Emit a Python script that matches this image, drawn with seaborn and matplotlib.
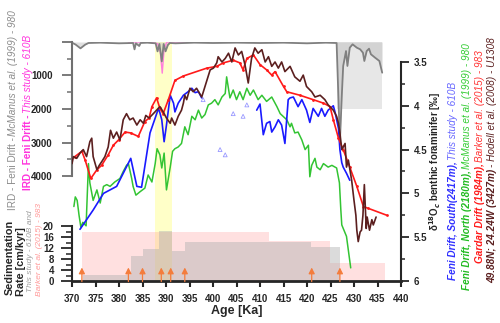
import numpy as np
import matplotlib
matplotlib.use("Agg")
import matplotlib.pyplot as plt
import seaborn as sns

# ---- data ----
# benthic d18O (permil)
brown_age = [370.0, 370.3, 371.0, 371.7, 372.4, 373.1, 373.8, 374.2, 374.5, 375.3,
             375.8, 376.3, 377.0, 377.7, 378.2, 378.8, 379.5, 380.2, 380.9, 381.6,
             382.3, 383.0, 383.8, 384.5, 385.2, 385.7, 386.4, 387.3, 388.0, 388.7,
             389.4, 390.1, 390.9, 391.2, 391.9, 392.6, 393.3, 393.7, 394.0, 394.4,
             395.1, 395.8, 396.5, 397.6, 398.7, 399.4, 400.1, 400.8, 401.1, 401.9,
             402.6, 403.3, 404.0, 404.7, 405.4, 406.1, 406.8, 407.5, 408.2, 408.9,
             409.6, 410.4, 411.1, 411.8, 412.5, 413.2, 413.9, 414.6, 415.3, 416.4,
             417.4, 418.5, 419.2, 419.9, 421.0, 421.7, 422.8, 423.8, 424.5, 425.6,
             426.3, 426.7, 427.0, 427.4, 428.1, 428.4, 428.8, 429.5, 430.0, 430.4,
             430.6, 430.9, 431.3, 431.6, 431.9, 432.2, 432.6, 432.8, 433.3, 433.8,
             434.1, 434.7]
brown_d18 = [4.66, 4.58, 4.60, 4.54, 4.50, 4.58, 4.41, 4.37, 4.58, 4.73,
             4.68, 4.64, 4.58, 4.47, 4.28, 4.37, 4.30, 4.39, 4.16, 4.09,
             4.16, 4.14, 4.22, 4.16, 4.20, 4.11, 4.14, 4.09, 4.05, 4.01,
             4.07, 4.14, 4.20, 4.14, 4.22, 4.12, 4.05, 3.97, 3.88, 3.93,
             3.80, 3.84, 3.80, 3.90, 3.71, 3.59, 3.57, 3.51, 3.44, 3.50,
             3.46, 3.40, 3.50, 3.34, 3.42, 3.38, 3.53, 3.74, 3.46, 3.34,
             3.40, 3.36, 3.50, 3.44, 3.55, 3.50, 3.57, 3.50, 3.61, 3.55,
             3.67, 3.72, 3.65, 3.78, 3.84, 3.90, 3.88, 3.93, 3.99, 4.05,
             4.12, 4.20, 4.31, 4.50, 4.43, 4.70, 4.62, 4.85, 5.08, 5.25,
             5.42, 5.55, 5.44, 5.42, 5.25, 4.90, 5.40, 5.27, 5.42, 5.30,
             5.36, 5.27]

green_age = [370.4, 370.7, 371.1, 371.5, 371.9, 372.3, 373.0, 373.5, 373.8, 374.5,
             375.3, 376.0, 376.7, 377.4, 378.1, 379.1, 380.2, 380.9, 381.6, 382.0,
             382.7, 383.0, 383.6, 384.5, 385.5, 386.2, 387.0, 387.7, 388.1, 388.7,
             389.1, 389.6, 390.1, 390.9, 391.4, 391.9, 392.6, 393.3, 394.0, 394.7,
             395.5, 396.2, 396.9, 397.6, 398.3, 399.0, 399.7, 400.4, 401.1, 401.9,
             402.6, 402.9, 403.6, 404.3, 405.0, 405.7, 406.4, 407.2, 407.9, 408.6,
             409.6, 410.4, 411.4, 412.5, 413.6, 414.3, 415.7, 416.4, 416.7, 417.4,
             418.1, 418.9, 419.6, 420.3, 420.6, 421.0, 421.7, 422.1, 422.8, 423.5,
             424.5, 425.3, 426.3, 426.9, 427.2, 427.4, 428.4, 429.3]
green_d18 = [5.15, 5.04, 5.08, 5.25, 5.39, 5.33, 5.37, 4.66, 4.88, 5.08,
             4.96, 5.11, 4.92, 4.90, 4.92, 4.87, 4.83, 4.75, 4.68, 4.66,
             4.83, 4.92, 5.02, 4.98, 4.94, 4.79, 4.87, 4.66, 4.49, 4.56,
             4.71, 4.54, 4.96, 4.70, 4.52, 4.49, 4.47, 4.43, 4.24, 4.33,
             4.12, 4.16, 4.05, 4.14, 4.10, 3.99, 3.97, 3.93, 3.99, 3.90,
             3.86, 3.67, 3.91, 3.82, 3.93, 3.84, 3.93, 3.80, 3.88, 3.82,
             3.93, 3.88, 3.95, 3.90, 4.01, 4.09, 4.16, 4.24, 4.20, 4.31,
             4.30, 4.39, 4.50, 4.45, 4.81, 4.68, 4.60, 4.70, 4.73, 4.66,
             4.70, 4.68, 4.71, 4.88, 5.19, 5.36, 5.49, 5.85]

red_age = [370.6, 372.1, 372.8, 374.0, 375.3, 376.3, 377.7, 378.8, 379.9, 381.3,
           382.5, 384.1, 385.5, 386.4, 387.0, 388.0, 388.7, 389.4, 390.5, 391.9,
           393.7, 398.7, 400.8, 402.2, 404.3, 405.7, 406.4, 407.2, 408.6, 410.0,
           411.4, 412.5, 413.2, 415.0, 415.7, 418.5, 421.3, 423.5, 424.9, 425.6,
           426.7, 427.7, 429.1, 430.6, 432.0, 433.0, 437.0]
red_d18 = [4.58, 4.52, 4.62, 4.83, 4.73, 4.68, 4.56, 4.45, 4.39, 4.30,
           4.31, 4.35, 4.18, 4.14, 4.01, 3.91, 4.03, 4.09, 3.93, 3.71,
           3.66, 3.57, 3.55, 3.51, 3.48, 3.51, 3.59, 3.46, 3.42, 3.53,
           3.59, 3.65, 3.61, 3.78, 3.84, 3.88, 3.93, 3.97, 4.01, 4.16,
           4.37, 4.50, 4.70, 4.92, 5.15, 5.17, 5.25]

blue_age_a = [371.7, 373.1, 374.5, 376.7, 379.5, 382.5, 383.8, 384.8, 386.6, 387.7,
              388.4, 388.7, 389.1, 389.6, 390.1, 390.9, 391.6, 391.9, 392.6, 393.7,
              394.7, 395.5, 396.2, 396.9, 397.6]
blue_d18_a = [5.41, 5.30, 5.19, 5.00, 4.92, 4.60, 4.92, 4.93, 4.31, 4.14,
              4.03, 4.08, 4.16, 4.41, 4.22, 3.88, 3.97, 4.07, 3.97, 3.88,
              3.84, 3.80, 3.85, 3.84, 3.91]
blue_age_b = [409.3, 410.0, 410.7, 411.4, 412.1, 412.5, 413.2, 413.9, 414.6, 415.3,
              416.0, 416.4, 417.1, 418.1, 418.9, 419.9, 420.6, 421.3, 422.4, 423.1,
              423.8, 424.5, 425.6, 426.0, 426.7, 427.0, 427.4, 427.7, 428.4, 429.1]
blue_d18_b = [4.05, 3.98, 4.33, 4.20, 4.18, 4.30, 4.24, 4.16, 4.22, 4.43,
              3.93, 3.91, 3.90, 4.01, 3.93, 4.05, 4.19, 4.03, 4.12, 4.03,
              4.12, 4.05, 4.00, 4.08, 4.26, 4.50, 4.65, 4.70, 4.77, 4.85]
tri_age = [397.9, 401.5, 402.6, 404.3, 406.4, 407.2]
tri_d18 = [3.93, 4.50, 4.56, 4.09, 4.12, 3.99]

# IRD counts
ird980_age = [370.0, 370.8, 371.8, 372.8, 373.5, 376.0, 380.0, 383.0, 383.3, 383.6,
              384.3, 384.6, 386.0, 387.8, 388.2, 388.6, 389.1, 389.5, 389.9, 390.4,
              390.8, 392.0, 396.0, 400.0, 405.0, 410.0, 415.0, 420.0, 424.0, 426.3,
              427.0, 427.4, 427.7, 428.3, 428.6, 429.1, 429.7, 430.6, 431.3, 431.9,
              432.2, 432.7, 433.2, 433.6, 434.5, 435.4, 436.0]
ird980_val = [20, 80, 190, 80, 30, 20, 40, 30, 220, 40,
              120, 30, 20, 40, 280, 60, 580, 60, 280, 90,
              30, 40, 20, 30, 20, 30, 20, 40, 20, 30,
              3000, 1610, 716, 270, 716, 170, 70, 170, 218, 320,
              567, 270, 200, 367, 470, 567, 916]
ird610_age = [382.0, 386.0, 388.2, 388.8, 389.2, 389.6, 390.2, 395.0]
ird610_val = [0, 0, 50, 300, 930, 200, 0, 0]
ird_box_age = [426.3, 436.0]
ird_box_depth = 2000

# sedimentation rate (step bars, edges + values)
sed983_edges = [372.1, 412.0, 424.8, 436.6]
sed983_rate = [17.8, 14.5, 6.6]
sed610_edges = [372.4, 382.5, 385.0, 388.5, 391.2, 394.0, 420.8, 427.0]
sed610_rate = [2.2, 9.0, 11.6, 18.3, 10.8, 14.2, 12.4]
tiepoint_age = [372.1, 382.0, 385.0, 389.0, 391.0, 394.0, 421.0, 427.0]
yellow_band = (387.7, 391.2)

# ---- figure ----
sns.set_style("ticks")
plt.rcParams["font.family"] = ["Liberation Sans", "DejaVu Sans"]
plt.rcParams["font.weight"] = "bold"
plt.rcParams["axes.linewidth"] = 1.5

fig = plt.figure(figsize=(5.0, 3.23), dpi=100)
rect = [0.144, 0.130, 0.658, 0.740]
ax = fig.add_axes(rect)
ax_ird = fig.add_axes(rect, sharex=ax)
ax_d = fig.add_axes(rect, sharex=ax)
for a in (ax_ird, ax_d):
    a.patch.set_visible(False)
    a.xaxis.set_visible(False)

# sedimentation rate + age axis
ax.axvspan(*yellow_band, color="#ffffc8", lw=0, zorder=0)
ax.fill_between(sed983_edges, sed983_rate + sed983_rate[-1:], step="post",
                color="#ff9999", alpha=0.3, lw=0)
ax.fill_between(sed610_edges, sed610_rate + sed610_rate[-1:], step="post",
                color="#b0b0b0", alpha=0.45, lw=0)
for a in tiepoint_age:
    ax.annotate("", xy=(a, 4.9), xytext=(a, -0.2),
                arrowprops=dict(arrowstyle="-|>,head_width=0.18,head_length=0.35",
                                color="#f47c3c", lw=0.9, shrinkA=0, shrinkB=0))
ax.set_xlim(370, 440)
ax.set_ylim(0, 87)
ax.set_xticks(np.arange(370, 441, 5))
ax.set_yticks([0, 4, 8, 12, 16, 20])
ax.set_yticks(np.arange(0, 21, 2), minor=True)
ax.spines["left"].set_bounds(0, 20)
ax.spines["bottom"].set_linewidth(2)
for s in ("top", "right"):
    ax.spines[s].set_visible(False)
ax.tick_params(axis="x", length=4, width=1.5, labelsize=7, pad=5)
ax.tick_params(axis="y", which="major", length=8, width=1.3, labelsize=7, pad=5)
ax.tick_params(axis="y", which="minor", length=4, width=1.1)
ax.set_xlabel("Age [Ka]", fontsize=9, fontweight="bold", labelpad=1)

# IRD
ax_ird.fill_between(ird_box_age, 0, ird_box_depth, color="#d4d4d4", alpha=0.55, lw=0)
ax_ird.fill_between(ird980_age, 0, ird980_val, color="#bbbbbb", alpha=0.45, lw=0)
sns.lineplot(x=ird610_age, y=ird610_val, ax=ax_ird, color="#ff80dd", lw=1.0,
             estimator=None, sort=False)
sns.lineplot(x=ird980_age, y=ird980_val, ax=ax_ird, color="#808080", lw=1.3,
             estimator=None, sort=False)
ax_ird.set_ylim(7134, 0)
ax_ird.set_yticks([0, 1000, 2000, 3000, 4000])
ax_ird.set_yticklabels(["", "1000", "2000", "3000", "4000"])
ax_ird.set_yticks(np.arange(0, 4001, 500), minor=True)
ax_ird.spines["left"].set_bounds(0, 4000)
ax_ird.spines["left"].set_color("#707070")
for s in ("top", "right", "bottom"):
    ax_ird.spines[s].set_visible(False)
ax_ird.tick_params(axis="y", which="major", length=7, width=1.3, color="#707070",
                   labelsize=7, pad=7)
ax_ird.tick_params(axis="y", which="minor", length=3.5, width=1.1, color="#707070")
ax_ird.set_ylabel("")

# d18O
sns.lineplot(x=green_age, y=green_d18, ax=ax_d, color="#33c433", lw=1.1,
             estimator=None, sort=False)
sns.lineplot(x=blue_age_a, y=blue_d18_a, ax=ax_d, color="#1a1aff", lw=1.2,
             estimator=None, sort=False)
sns.lineplot(x=blue_age_b, y=blue_d18_b, ax=ax_d, color="#1a1aff", lw=1.2,
             estimator=None, sort=False)
ax_d.scatter(tri_age, tri_d18, marker="^", s=8, facecolors="none",
             edgecolors="#9999ff", linewidths=0.6)
sns.lineplot(x=red_age, y=red_d18, ax=ax_d, color="#ff1a1a", lw=1.2,
             marker="o", markersize=2, markeredgewidth=0, estimator=None, sort=False)
sns.lineplot(x=brown_age, y=brown_d18, ax=ax_d, color="#5b1f1f", lw=1.2,
             estimator=None, sort=False)
ax_d.set_ylim(6, 3.272)
ax_d.yaxis.tick_right()
ax_d.set_yticks([3.5, 4, 4.5, 5, 5.5, 6])
ax_d.set_yticklabels(["3.5", "4", "4.5", "5", "5.5", "6"])
ax_d.set_yticks(np.arange(3.5, 6.01, 0.25), minor=True)
ax_d.spines["right"].set_visible(True)
ax_d.spines["right"].set_bounds(3.5, 6)
for s in ("top", "left", "bottom"):
    ax_d.spines[s].set_visible(False)
ax_d.tick_params(axis="y", which="major", length=6, width=1.3, labelsize=7, pad=3)
ax_d.tick_params(axis="y", which="minor", length=3, width=1.1)
ax_d.set_ylabel("")
ax.set_xlim(370, 440)

# ---- rotated labels, built piece by piece ----
renderer = fig.canvas.get_renderer()
W, H = 500.0, 323.0


def vtext(xpx, ypx, parts, size=7.2, gap=1.5):
    y = (H - ypx) / H
    for s, kw in parts:
        t = fig.text(xpx / W, y, s, rotation=90, ha="center", va="bottom",
                     fontsize=size, **kw)
        bb = t.get_window_extent(renderer)
        y = (bb.y1 + gap) / fig.bbox.height


it = dict(fontstyle="italic", fontweight="normal")
bi = dict(fontstyle="italic", fontweight="bold")

vtext(13, 210, [("IRD - Feni Drift -", dict(color="#8c8c8c", fontweight="normal")),
                ("McManus et al. (1999) - 980", dict(color="#8c8c8c", **it))])
vtext(28, 190, [("IRD - Feni Drift -", dict(color="#ff33dd", fontweight="bold")),
                ("This study - 610B", dict(color="#ff33dd", **it))])
fig.text(10 / W, (H - 257) / H, "Sedimentation", rotation=90, ha="center",
         va="center", fontsize=7.8, fontweight="bold")
fig.text(21 / W, (H - 262) / H, "Rate [cm/kyr]", rotation=90, ha="center",
         va="center", fontsize=7.8, fontweight="bold")
fig.text(30.5 / W, (H - 251) / H, "This study - 610B and", rotation=90, ha="center",
         va="center", fontsize=6.0, color="#a0a0a0", **it)
fig.text(39.5 / W, (H - 250) / H, "Barker et al. (2015) - 983", rotation=90,
         ha="center", va="center", fontsize=6.0, color="#ff9999", **it)

fig.text(435 / W, (H - 161) / H, "δ$^{18}$O$_c$ benthic foraminifer [‰]",
         rotation=90, ha="center", va="center", fontsize=7, fontweight="bold")
vtext(453, 280, [("Feni Drift, South(2417m),", dict(color="#3030ff", **bi)),
                 ("This study - 610B", dict(color="#6666ff", **it))])
vtext(467, 290, [("Feni Drift, North (2180m),", dict(color="#22bb22", **bi)),
                 ("McManus et al. (1999) - 980", dict(color="#33cc33", **it))])
vtext(480, 263, [("Gardar Drift (1984m),", dict(color="#ff1a1a", **bi)),
                 ("Barker et al. (2015) - 983", dict(color="#ff3333", **it))])
vtext(492, 283, [("49.88N; 24.24W (3427m)", dict(color="#5b1f1f", **bi)),
                 ("- Hodell et al. (2008) - U1308", dict(color="#5b1f1f", **it))])

fig.savefig("out.png", dpi=100)
